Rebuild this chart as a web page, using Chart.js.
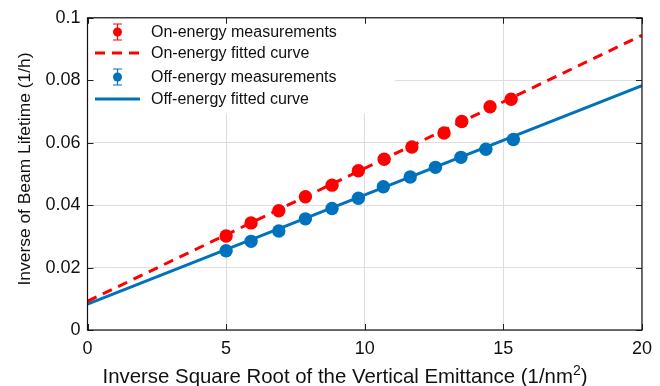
<!DOCTYPE html>
<html>
<head>
<meta charset="utf-8">
<script src="https://cdn.jsdelivr.net/npm/chart.js@4.4.1/dist/chart.umd.min.js"></script>
<style>
  html, body { margin: 0; padding: 0; background: #fff; }
  #wrap { width: 660px; height: 386px; position: relative; }
</style>
</head>
<body>
<div id="wrap"><canvas id="lifetimeChart"></canvas></div>
<script>
const onEnergyX = [5.00, 5.90, 6.90, 7.86, 8.82, 9.77, 10.70, 11.70, 12.86, 13.50, 14.52, 15.28];
const onEnergyY = [0.0301, 0.0343, 0.0382, 0.0427, 0.0464, 0.0510, 0.0547, 0.0586, 0.0631, 0.0668, 0.0715, 0.0739];
const offEnergyX = [5.00, 5.90, 6.90, 7.86, 8.82, 9.77, 10.67, 11.64, 12.55, 13.47, 14.37, 15.36];
const offEnergyY = [0.0254, 0.0284, 0.0317, 0.0356, 0.0389, 0.0422, 0.0459, 0.0490, 0.0521, 0.0553, 0.0579, 0.0610];

// Droites ajustées (extrémités à x = 0 et x = 20)
const fitX = [0, 20];
const onFitY = [0.0092, 0.0944];
const offFitY = [0.0083, 0.0783];

const xTicks = [0, 5, 10, 15, 20];
const yTicks = [0, 0.02, 0.04, 0.06, 0.08, 0.1];

const legendLabels = ['On-energy measurements', 'On-energy fitted curve', 'Off-energy measurements', 'Off-energy fitted curve'];

const RED = '#ff0000';
const BLUE = '#0072bd';
const FONT = '"Liberation Sans", Arial, Helvetica, sans-serif';

function toPoints(xs, ys) {
    return xs.map((x, i) => ({ x: x, y: ys[i] }));
}

// Cadre, graduations internes, légende et titres des axes
const decorPlugin = {
    id: 'decor',
    afterDraw(chart) {
        const ctx = chart.ctx;
        const area = chart.chartArea;
        const xs = chart.scales.x;
        const ys = chart.scales.y;
        ctx.save();

        // légende (fond blanc)
        const lx = area.left, ly = area.top;
        ctx.fillStyle = '#fff';
        ctx.fillRect(lx + 0.5, ly + 0.5, 307, 95);
        const rows = [32, 53, 77, 99];
        const iconL = 95, iconR = 140, iconC = 117.5;
        ctx.font = '16px ' + FONT;
        ctx.fillStyle = '#111';
        ctx.textBaseline = 'middle';
        ctx.textAlign = 'left';
        legendLabels.forEach((t, i) => ctx.fillText(t, 151, rows[i] + 1));

        [[rows[0], RED], [rows[2], BLUE]].forEach(([cy, col]) => {
            ctx.strokeStyle = col;
            ctx.fillStyle = col;
            ctx.lineWidth = 1.2;
            ctx.beginPath();
            ctx.moveTo(iconC, cy - 8); ctx.lineTo(iconC, cy + 8);
            ctx.moveTo(iconC - 4.5, cy - 8); ctx.lineTo(iconC + 4.5, cy - 8);
            ctx.moveTo(iconC - 4.5, cy + 8); ctx.lineTo(iconC + 4.5, cy + 8);
            ctx.stroke();
            ctx.beginPath();
            ctx.arc(iconC, cy, 4.5, 0, Math.PI * 2);
            ctx.fill();
        });
        ctx.lineWidth = 3;
        ctx.strokeStyle = RED;
        ctx.setLineDash([10, 7]);
        ctx.beginPath();
        ctx.moveTo(iconL, rows[1]); ctx.lineTo(iconR, rows[1]);
        ctx.stroke();
        ctx.setLineDash([]);
        ctx.strokeStyle = BLUE;
        ctx.beginPath();
        ctx.moveTo(iconL, rows[3]); ctx.lineTo(iconR, rows[3]);
        ctx.stroke();

        // graduations vers l'intérieur
        ctx.strokeStyle = '#222';
        ctx.lineWidth = 1;
        ctx.beginPath();
        xTicks.forEach(v => {
            const px = Math.round(xs.getPixelForValue(v)) + 0.5;
            ctx.moveTo(px, area.bottom); ctx.lineTo(px, area.bottom - 6);
            ctx.moveTo(px, area.top); ctx.lineTo(px, area.top + 6);
        });
        yTicks.forEach(v => {
            const py = Math.round(ys.getPixelForValue(v)) + 0.5;
            ctx.moveTo(area.left, py); ctx.lineTo(area.left + 6, py);
            ctx.moveTo(area.right, py); ctx.lineTo(area.right - 6, py);
        });
        ctx.stroke();

        // cadre
        ctx.strokeStyle = '#111';
        ctx.lineWidth = 1.2;
        ctx.strokeRect(area.left, area.top, area.right - area.left, area.bottom - area.top);

        // titres des axes
        ctx.fillStyle = '#111';
        ctx.textBaseline = 'alphabetic';
        ctx.font = '20.4px ' + FONT;
        const main = 'Inverse Square Root of the Vertical Emittance (1/nm';
        const sup = '2';
        const tail = ')';
        const wMain = ctx.measureText(main).width;
        ctx.font = '14px ' + FONT;
        const wSup = ctx.measureText(sup).width;
        ctx.font = '20.4px ' + FONT;
        const wTail = ctx.measureText(tail).width;
        let tx = 345 - (wMain + wSup + wTail) / 2;
        ctx.textAlign = 'left';
        ctx.fillText(main, tx, 383);
        ctx.font = '14px ' + FONT;
        ctx.fillText(sup, tx + wMain, 375);
        ctx.font = '20.4px ' + FONT;
        ctx.fillText(tail, tx + wMain + wSup, 383);

        ctx.translate(30, 169);
        ctx.rotate(-Math.PI / 2);
        ctx.textAlign = 'center';
        ctx.font = '17.4px ' + FONT;
        ctx.fillText('Inverse of Beam Lifetime (1/h)', 0, 0);
        ctx.restore();
    }
};

new Chart(document.getElementById('lifetimeChart'), {
    type: 'scatter',
    data: {
        datasets: [
            { label: legendLabels[0], data: toPoints(onEnergyX, onEnergyY), backgroundColor: RED, borderColor: RED,
              pointRadius: 6.7, pointBorderWidth: 0, showLine: false, order: 0 },
            { label: legendLabels[1], data: toPoints(fitX, onFitY), borderColor: RED, borderWidth: 3,
              borderDash: [10, 7], pointRadius: 0, showLine: true, order: 1 },
            { label: legendLabels[2], data: toPoints(offEnergyX, offEnergyY), backgroundColor: BLUE, borderColor: BLUE,
              pointRadius: 6.7, pointBorderWidth: 0, showLine: false, order: 0 },
            { label: legendLabels[3], data: toPoints(fitX, offFitY), borderColor: BLUE, borderWidth: 3,
              pointRadius: 0, showLine: true, order: 1 }
        ]
    },
    options: {
        responsive: true,
        maintainAspectRatio: false,
        animation: false,
        layout: { padding: { top: 17.5, right: 18, left: 0, bottom: 0 } },
        plugins: { legend: { display: false }, tooltip: { enabled: false } },
        scales: {
            x: {
                type: 'linear', min: 0, max: 20,
                afterFit: s => { s.height = 56; },
                afterBuildTicks: s => { s.ticks = xTicks.map(v => ({ value: v })); },
                grid: { color: '#dedede', lineWidth: 1, drawTicks: false },
                border: { display: false },
                ticks: { padding: 8, color: '#111', font: { family: FONT, size: 18 } }
            },
            y: {
                type: 'linear', min: 0, max: 0.1,
                afterFit: s => { s.width = 87.5; },
                afterBuildTicks: s => { s.ticks = yTicks.map(v => ({ value: v })); },
                grid: { color: '#dedede', lineWidth: 1, drawTicks: false },
                border: { display: false },
                ticks: { padding: 7, color: '#111', font: { family: FONT, size: 18 },
                         callback: v => String(+v.toFixed(2)) }
            }
        }
    },
    plugins: [decorPlugin]
});
</script>
</body>
</html>
